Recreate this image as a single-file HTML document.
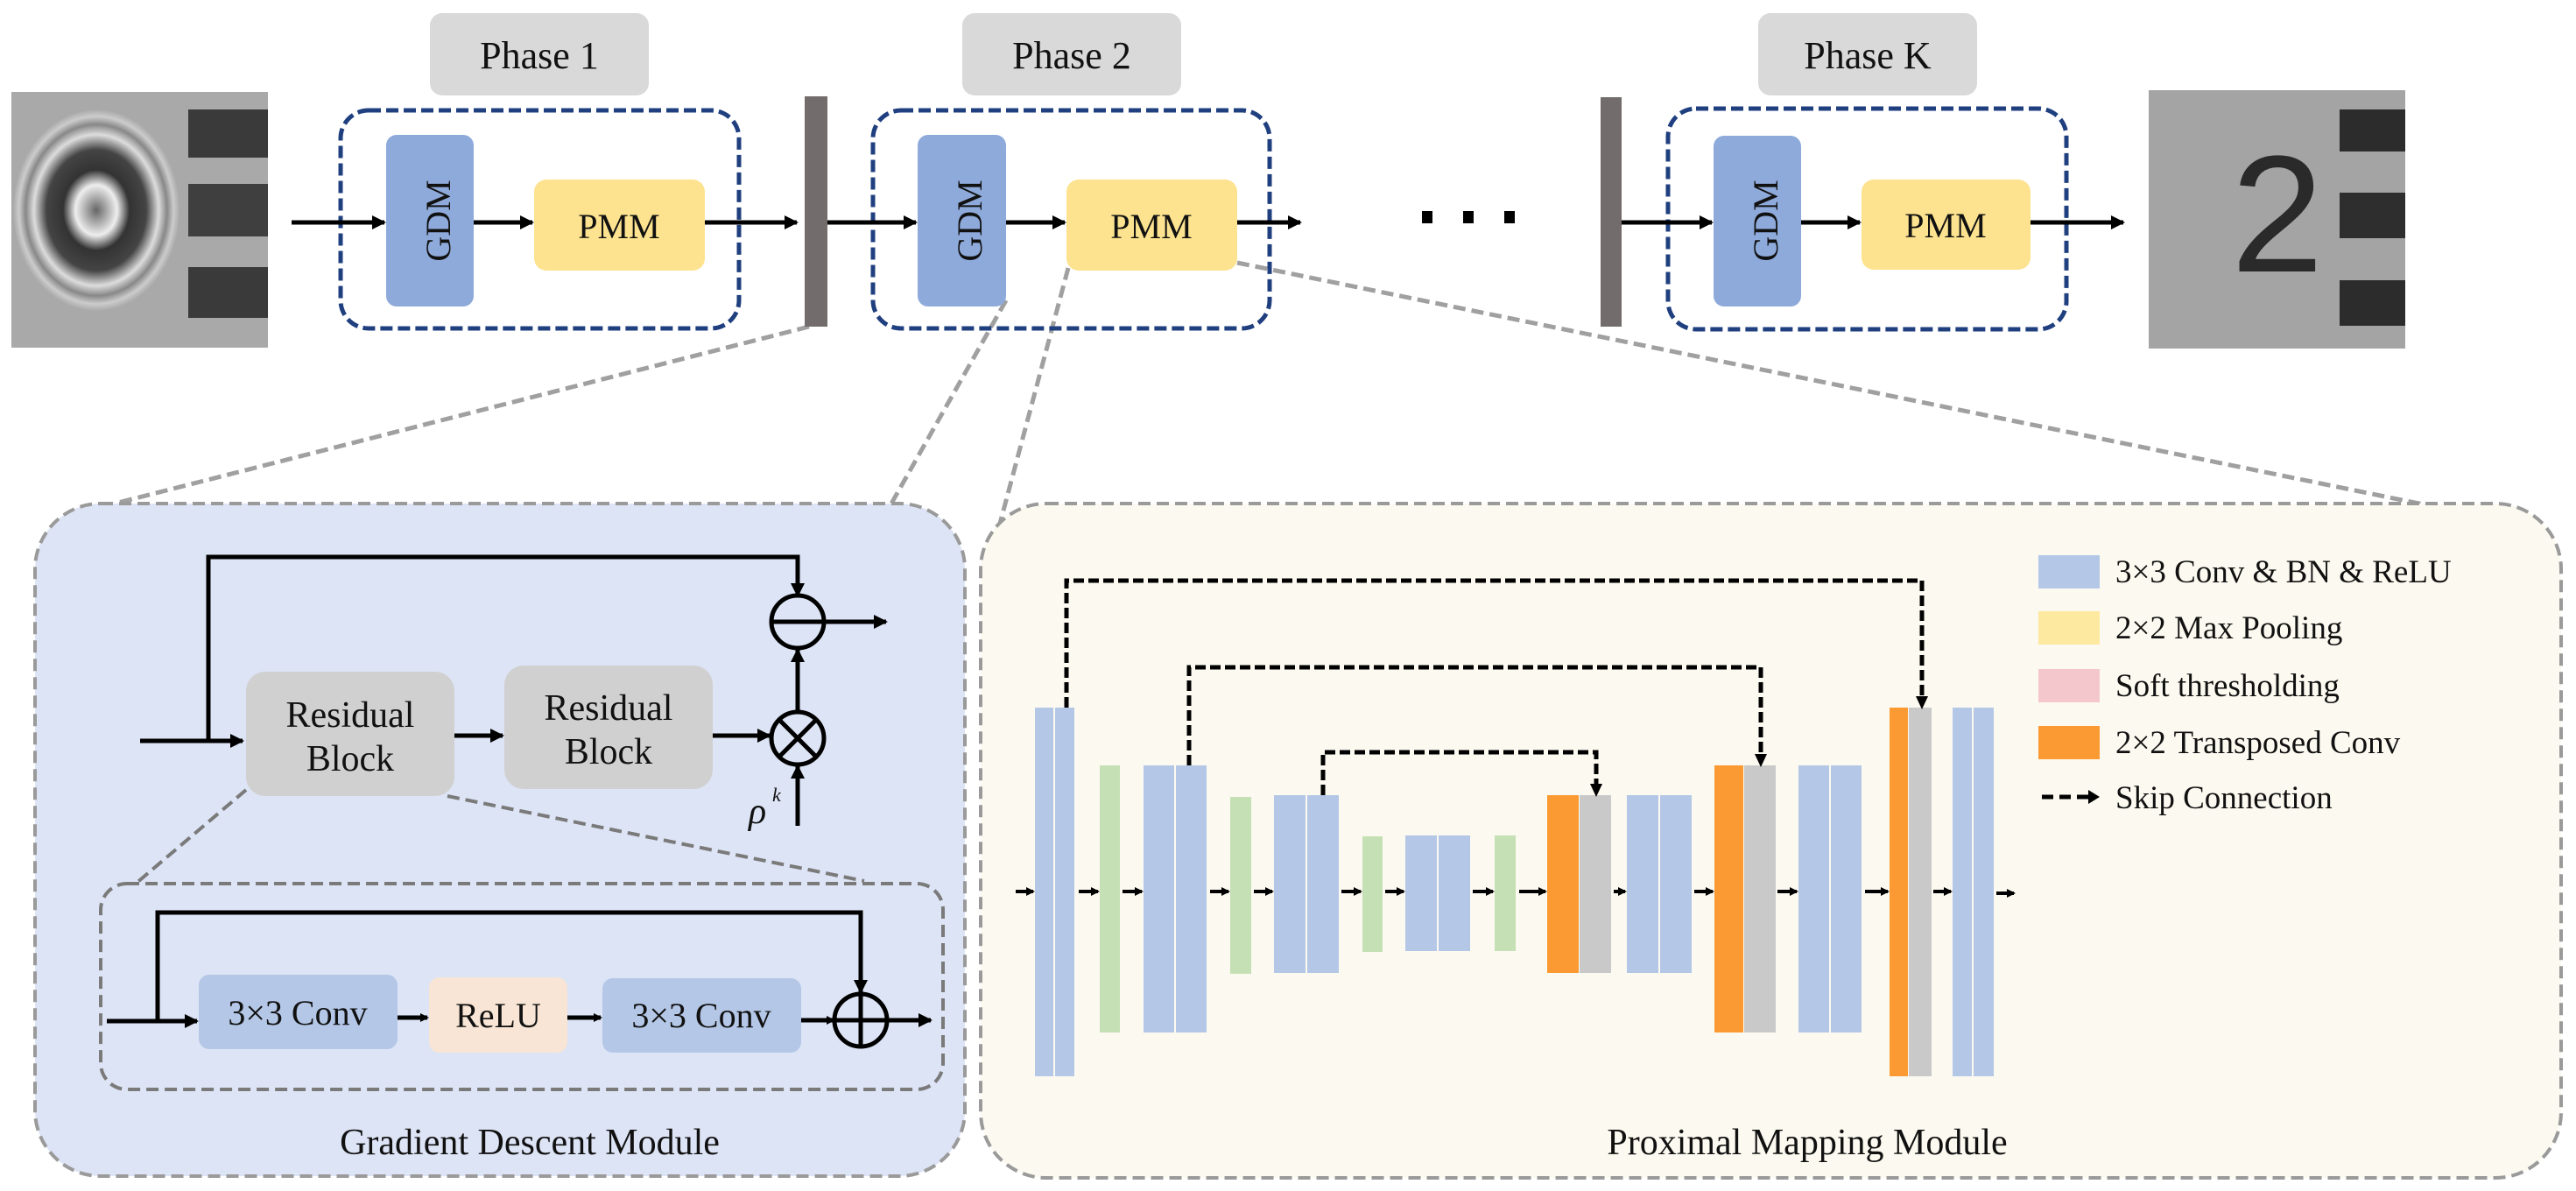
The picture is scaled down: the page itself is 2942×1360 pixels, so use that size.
<!DOCTYPE html>
<html><head><meta charset="utf-8"><style>
html,body{margin:0;padding:0;background:#fff;}
svg{display:block;font-family:"Liberation Serif","DejaVu Serif",serif;}
svg text{font-family:"Liberation Serif","DejaVu Serif",serif;fill:#111;}
svg text.sans{font-family:"Liberation Sans","DejaVu Sans",sans-serif;fill:#2a2a2a;}
</style></head><body>
<svg width="2942" height="1360" viewBox="0 0 2942 1360" xmlns="http://www.w3.org/2000/svg" font-family="Liberation Serif, serif">
<defs>
<marker id="ah" markerWidth="10" markerHeight="10" refX="8" refY="5" orient="auto" markerUnits="userSpaceOnUse"><path d="M0,0 L10,5 L0,10 z" fill="#000"/></marker>
<marker id="ahs" markerWidth="16" markerHeight="16" refX="14" refY="8" orient="auto" markerUnits="userSpaceOnUse"><path d="M0,0 L16,8 L0,16 z" fill="#000"/></marker>
<radialGradient id="ring" cx="0.5" cy="0.5" r="0.5">
<stop offset="0" stop-color="#666"/><stop offset="0.25" stop-color="#eee"/><stop offset="0.4" stop-color="#333"/><stop offset="0.6" stop-color="#444"/><stop offset="0.75" stop-color="#ddd"/><stop offset="0.85" stop-color="#888"/><stop offset="0.93" stop-color="#ccc"/><stop offset="1" stop-color="#aaa"/></radialGradient>
</defs>

<g stroke="#a0a0a0" stroke-width="5" stroke-dasharray="14,7" fill="none">
<line x1="924" y1="373" x2="131" y2="575"/>
<line x1="1149" y1="343" x2="1018" y2="575"/>
<line x1="1220" y1="306" x2="1135" y2="624"/>
<line x1="1413" y1="300" x2="2871" y2="597"/>
</g>

<rect x="13" y="105" width="293" height="292" fill="#a9a9a9"/>
<ellipse cx="110" cy="240" rx="95" ry="115" fill="url(#ring)"/>
<rect x="215" y="125" width="91" height="55" fill="#3a3a3a"/>
<rect x="215" y="210" width="91" height="60" fill="#3f3f3f"/>
<rect x="215" y="305" width="91" height="58" fill="#3a3a3a"/>

<rect x="2454" y="103" width="293" height="295" fill="#a4a4a4"/>
<text class="sans" x="2548" y="310" font-size="190">2</text>
<rect x="2672" y="125" width="75" height="48" fill="#2c2c2c"/>
<rect x="2672" y="220" width="75" height="52" fill="#2e2e2e"/>
<rect x="2672" y="320" width="75" height="52" fill="#2c2c2c"/>

<rect x="491" y="15" width="250" height="94" rx="14" fill="#d9d9d9"/>
<text x="616" y="78" font-size="44" text-anchor="middle">Phase 1</text>
<rect x="1099" y="15" width="250" height="94" rx="14" fill="#d9d9d9"/>
<text x="1224" y="78" font-size="44" text-anchor="middle">Phase 2</text>
<rect x="2008" y="15" width="250" height="94" rx="14" fill="#d9d9d9"/>
<text x="2133" y="78" font-size="44" text-anchor="middle">Phase K</text>

<rect x="919" y="110" width="26" height="263" fill="#726c6c"/>
<rect x="1828" y="111" width="24" height="262" fill="#726c6c"/>

<g stroke="#1f3f7f" stroke-width="5" stroke-dasharray="14,6" fill="none">
<rect x="389" y="126" width="455" height="249" rx="32"/>
<rect x="997" y="126" width="453" height="249" rx="32"/>
<rect x="1905" y="124" width="455" height="252" rx="32"/>
</g>
<rect x="441" y="154" width="100" height="196" rx="12" fill="#8eaadb"/>
<rect x="610" y="205" width="195" height="104" rx="14" fill="#fde38f"/>
<rect x="1048" y="154" width="101" height="196" rx="12" fill="#8eaadb"/>
<rect x="1218" y="205" width="195" height="104" rx="14" fill="#fde38f"/>
<rect x="1957" y="155" width="100" height="195" rx="12" fill="#8eaadb"/>
<rect x="2126" y="205" width="193" height="103" rx="14" fill="#fde38f"/>
<g font-size="40">
<text transform="translate(505,252) rotate(-90)" text-anchor="middle" dominant-baseline="middle">GDM</text>
<text transform="translate(1112,252) rotate(-90)" text-anchor="middle" dominant-baseline="middle">GDM</text>
<text transform="translate(2021,252) rotate(-90)" text-anchor="middle" dominant-baseline="middle">GDM</text>
<text x="707" y="272" text-anchor="middle">PMM</text>
<text x="1315" y="272" text-anchor="middle">PMM</text>
<text x="2222" y="271" text-anchor="middle">PMM</text>
</g>
<g stroke="#000" stroke-width="5" marker-end="url(#ahs)">
<line x1="333" y1="254" x2="439" y2="254"/>
<line x1="541" y1="254" x2="608" y2="254"/>
<line x1="805" y1="254" x2="910" y2="254"/>
<line x1="945" y1="254" x2="1046" y2="254"/>
<line x1="1149" y1="254" x2="1216" y2="254"/>
<line x1="1413" y1="254" x2="1485" y2="254"/>
<line x1="1852" y1="254" x2="1955" y2="254"/>
<line x1="2057" y1="254" x2="2124" y2="254"/>
<line x1="2319" y1="254" x2="2425" y2="254"/>
</g>
<rect x="1624" y="241" width="12" height="14" fill="#000"/>
<rect x="1671" y="241" width="12" height="14" fill="#000"/>
<rect x="1718" y="241" width="12" height="14" fill="#000"/>

<rect x="40" y="575" width="1062" height="768" rx="75" fill="#dde4f5" stroke="#9a9a9a" stroke-width="4" stroke-dasharray="14,7"/>
<g stroke="#000" stroke-width="5" fill="none">
<polyline points="160,846 238,846 238,636 911,636 911,680" marker-end="url(#ahs)"/>
<line x1="238" y1="846" x2="277" y2="846" marker-end="url(#ahs)"/>
<line x1="519" y1="840" x2="574" y2="840" marker-end="url(#ahs)"/>
<line x1="814" y1="840" x2="879" y2="840" marker-end="url(#ahs)"/>
<line x1="911" y1="943" x2="911" y2="875" marker-end="url(#ahs)"/>
<line x1="911" y1="813" x2="911" y2="742" marker-end="url(#ahs)"/>
<line x1="941" y1="710" x2="1012" y2="710" marker-end="url(#ahs)"/>
<circle cx="911" cy="710" r="30"/>
<line x1="881" y1="710" x2="941" y2="710"/>
<circle cx="911" cy="843" r="30"/>
<line x1="890" y1="822" x2="932" y2="864"/><line x1="932" y1="822" x2="890" y2="864"/>
</g>
<rect x="281" y="767" width="238" height="142" rx="22" fill="#d0d0d0"/>
<rect x="576" y="760" width="238" height="141" rx="22" fill="#d0d0d0"/>
<text x="400" y="830" font-size="42" text-anchor="middle">Residual</text>
<text x="400" y="880" font-size="42" text-anchor="middle">Block</text>
<text x="695" y="822" font-size="42" text-anchor="middle">Residual</text>
<text x="695" y="872" font-size="42" text-anchor="middle">Block</text>
<text x="855" y="940" font-size="42" font-style="italic">ρ</text>
<text x="882" y="915" font-size="22" font-style="italic">k</text>
<g stroke="#7a7a7a" stroke-width="4" stroke-dasharray="14,7" fill="none">
<line x1="281" y1="902" x2="155" y2="1009"/>
<line x1="511" y1="909" x2="987" y2="1006"/>
<rect x="115" y="1009" width="962" height="235" rx="30"/>
</g>
<rect x="227" y="1113" width="227" height="85" rx="12" fill="#b4c7e7"/>
<rect x="490" y="1116" width="158" height="86" rx="12" fill="#f8e5d5"/>
<rect x="688" y="1117" width="227" height="85" rx="12" fill="#b4c7e7"/>
<text x="340" y="1170" font-size="40" text-anchor="middle">3×3 Conv</text>
<text x="569" y="1173" font-size="40" text-anchor="middle">ReLU</text>
<text x="801" y="1173" font-size="40" text-anchor="middle">3×3 Conv</text>
<g stroke="#000" stroke-width="5" fill="none">
<polyline points="122,1166 180,1166 180,1042 983,1042 983,1133" marker-end="url(#ahs)"/>
<line x1="180" y1="1166" x2="225" y2="1166" marker-end="url(#ahs)"/>
<line x1="454" y1="1162" x2="488" y2="1162" marker-end="url(#ah)"/>
<line x1="648" y1="1162" x2="686" y2="1162" marker-end="url(#ah)"/>
<line x1="915" y1="1165" x2="952" y2="1165" marker-end="url(#ah)"/>
<line x1="1013" y1="1165" x2="1063" y2="1165" marker-end="url(#ahs)"/>
<circle cx="983" cy="1165" r="30"/>
<line x1="953" y1="1165" x2="1013" y2="1165"/><line x1="983" y1="1135" x2="983" y2="1195"/>
</g>
<text x="605" y="1318" font-size="42" text-anchor="middle">Gradient Descent Module</text>

<rect x="1120" y="575" width="1805" height="770" rx="75" fill="#fcfaf0" stroke="#9a9a9a" stroke-width="4" stroke-dasharray="14,7"/>
<g>
<rect x="1182" y="808" width="21" height="421" fill="#b4c7e7"/><rect x="1205" y="808" width="22" height="421" fill="#b4c7e7"/>
<rect x="1256" y="874" width="23" height="305" fill="#c5e0b4"/>
<rect x="1306" y="874" width="35" height="305" fill="#b4c7e7"/><rect x="1343" y="874" width="35" height="305" fill="#b4c7e7"/>
<rect x="1405" y="910" width="24" height="202" fill="#c5e0b4"/>
<rect x="1455" y="908" width="36" height="203" fill="#b4c7e7"/><rect x="1493" y="908" width="36" height="203" fill="#b4c7e7"/>
<rect x="1556" y="955" width="23" height="132" fill="#c5e0b4"/>
<rect x="1605" y="954" width="36" height="132" fill="#b4c7e7"/><rect x="1643" y="954" width="36" height="132" fill="#b4c7e7"/>
<rect x="1707" y="954" width="24" height="132" fill="#c5e0b4"/>
<rect x="1767" y="908" width="36" height="203" fill="#fb9a33"/><rect x="1804" y="908" width="36" height="203" fill="#c9c9c9"/>
<rect x="1858" y="908" width="36" height="203" fill="#b4c7e7"/><rect x="1896" y="908" width="36" height="203" fill="#b4c7e7"/>
<rect x="1958" y="874" width="33" height="305" fill="#fb9a33"/><rect x="1992" y="874" width="36" height="305" fill="#c9c9c9"/>
<rect x="2054" y="874" width="35" height="305" fill="#b4c7e7"/><rect x="2091" y="874" width="35" height="305" fill="#b4c7e7"/>
<rect x="2158" y="808" width="21" height="421" fill="#fb9a33"/><rect x="2180" y="808" width="26" height="421" fill="#c9c9c9"/>
<rect x="2230" y="808" width="22" height="421" fill="#b4c7e7"/><rect x="2254" y="808" width="23" height="421" fill="#b4c7e7"/>
</g>
<g stroke="#000" stroke-width="5" stroke-dasharray="12,5" fill="none">
<polyline points="1218,808 1218,663 2195,663 2195,798"/>
<polyline points="1358,874 1358,762 2011,762 2011,864"/>
<polyline points="1511,908 1511,859 1823,859 1823,898"/>
</g>
<g fill="#000">
<path d="M2188,795 L2202,795 L2195,810 z"/>
<path d="M2004,861 L2018,861 L2011,876 z"/>
<path d="M1816,895 L1830,895 L1823,910 z"/>
</g>
<g stroke="#000" stroke-width="4" marker-end="url(#ah)">
<line x1="1160" y1="1018" x2="1180" y2="1018"/>
<line x1="1232" y1="1018" x2="1254" y2="1018"/>
<line x1="1282" y1="1018" x2="1304" y2="1018"/>
<line x1="1382" y1="1018" x2="1403" y2="1018"/>
<line x1="1432" y1="1018" x2="1453" y2="1018"/>
<line x1="1532" y1="1018" x2="1554" y2="1018"/>
<line x1="1582" y1="1018" x2="1603" y2="1018"/>
<line x1="1682" y1="1018" x2="1705" y2="1018"/>
<line x1="1735" y1="1018" x2="1765" y2="1018"/>
<line x1="1843" y1="1018" x2="1856" y2="1018"/>
<line x1="1935" y1="1018" x2="1956" y2="1018"/>
<line x1="2030" y1="1018" x2="2052" y2="1018"/>
<line x1="2130" y1="1018" x2="2156" y2="1018"/>
<line x1="2208" y1="1018" x2="2228" y2="1018"/>
<line x1="2280" y1="1020" x2="2300" y2="1020"/>
</g>
<rect x="2328" y="634" width="70" height="38" fill="#b4c7e7"/>
<rect x="2328" y="698" width="70" height="38" fill="#fde9a0"/>
<rect x="2328" y="764" width="70" height="38" fill="#f4c7cc"/>
<rect x="2328" y="829" width="70" height="38" fill="#fb9a33"/>
<g stroke="#000" stroke-width="5"><line x1="2332" y1="910" x2="2345" y2="910"/><line x1="2352" y1="910" x2="2365" y2="910"/><line x1="2372" y1="910" x2="2385" y2="910"/></g>
<path d="M2385,902 L2398,910 L2385,918 z" fill="#000"/>
<g font-size="37">
<text x="2416" y="665">3×3 Conv &amp; BN &amp; ReLU</text>
<text x="2416" y="729">2×2 Max Pooling</text>
<text x="2416" y="795">Soft thresholding</text>
<text x="2416" y="860">2×2 Transposed Conv</text>
<text x="2416" y="923">Skip Connection</text>
</g>
<text x="2064" y="1318" font-size="42" text-anchor="middle">Proximal Mapping Module</text>
</svg>
</body></html>
